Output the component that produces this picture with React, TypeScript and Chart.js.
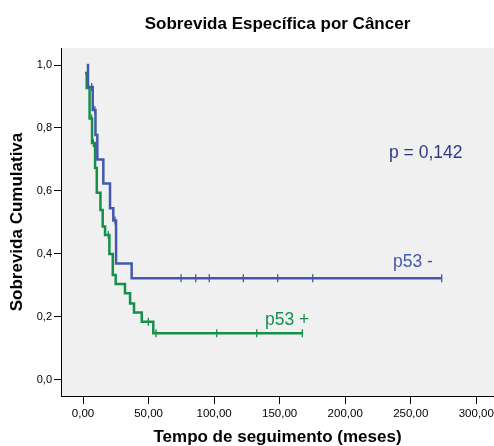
import { useEffect, useRef } from "react";
import { Chart, registerables } from "chart.js";

Chart.register(...registerables);

// Kaplan–Meier estimates: time of each step (months) and survival after it
const negTimes = [2.8, 3.8, 7.4, 9.5, 10.9, 15.5, 20.6, 23.1, 25.2, 37.1, 273.6];
const negSurvival = [1.0, 0.93, 0.857, 0.778, 0.7, 0.624, 0.545, 0.506, 0.37, 0.323, 0.323];
const negCensored = [6.6, 9.0, 24.4, 74.8, 86.0, 96.3, 122.3, 148.5, 175.2, 273.6];

const posTimes = [1.5, 2.8, 5.0, 6.9, 9.2, 10.5, 13.3, 15.0, 16.8, 20.1, 22.7, 24.9, 32.0, 35.9, 38.9, 44.8, 53.6, 167.3];
const posSurvival = [0.975, 0.927, 0.83, 0.752, 0.673, 0.594, 0.54, 0.487, 0.46, 0.4, 0.333, 0.305, 0.275, 0.243, 0.214, 0.185, 0.148, 0.148];
const posCensored = [6.6, 7.9, 19.3, 49.8, 55.7, 102.0, 132.5, 167.3];

const xTicks = [0, 50, 100, 150, 200, 250, 300];
const yTicks = [0, 0.2, 0.4, 0.6, 0.8, 1.0];

const seriesNames = ["p53 -", "p53 +"];
const pValueText = "p = 0,142";

const BLUE = "#4259ad";
const GREEN = "#15904a";
const FONT = 'Arial, "Liberation Sans", sans-serif';

function survivalAt(times: number[], surv: number[], t: number) {
  let s = surv[0];
  for (let i = 0; i < times.length; i++) {
    if (times[i] <= t) s = surv[i];
  }
  return s;
}

const comma = (v: number, d: number) => v.toFixed(d).replace(".", ",");

const plotBackground = {
  id: "plotBackground",
  beforeDraw(chart: any) {
    const { ctx, chartArea } = chart;
    ctx.save();
    ctx.fillStyle = "#f0f0f0";
    ctx.fillRect(chartArea.left, chartArea.top, chartArea.right - chartArea.left, chartArea.bottom - chartArea.top);
    ctx.restore();
  },
};

const textLabels = {
  id: "textLabels",
  afterDatasetsDraw(chart: any) {
    const { ctx, scales } = chart;
    const xs = scales.x;
    const ys = scales.y;
    const items = [
      { text: pValueText, x: 233.4, y: 0.705, color: "#2e3a86" },
      { text: seriesNames[0], x: 236.5, y: 0.359, color: BLUE },
      { text: seriesNames[1], x: 138.8, y: 0.175, color: GREEN },
    ];
    ctx.save();
    ctx.font = `17.5px ${FONT}`;
    ctx.textAlign = "left";
    ctx.textBaseline = "alphabetic";
    for (const it of items) {
      ctx.fillStyle = it.color;
      ctx.fillText(it.text, xs.getPixelForValue(it.x), ys.getPixelForValue(it.y));
    }
    // chart title
    ctx.fillStyle = "#000";
    ctx.font = `bold 17px ${FONT}`;
    ctx.textAlign = "center";
    ctx.textBaseline = "middle";
    ctx.fillText("Sobrevida Específica por Câncer", (chart.chartArea.left + chart.chartArea.right) / 2, 24);
    ctx.restore();
  },
};

export default function App() {
  const ref = useRef<HTMLCanvasElement>(null);

  useEffect(() => {
    if (!ref.current) return;
    const curve = (times: number[], surv: number[]) =>
      times.map((t, i) => ({ x: t, y: surv[i] }));
    const marks = (cens: number[], times: number[], surv: number[]) =>
      cens.map((t) => ({ x: t, y: survivalAt(times, surv, t) }));

    const chart = new Chart(ref.current, {
      type: "line",
      data: {
        datasets: [
          {
            label: seriesNames[0],
            data: curve(negTimes, negSurvival),
            borderColor: BLUE,
            borderWidth: 2.5,
            stepped: "before",
            pointRadius: 0,
            fill: false,
          },
          {
            label: seriesNames[1],
            data: curve(posTimes, posSurvival),
            borderColor: GREEN,
            borderWidth: 2.5,
            stepped: "before",
            pointRadius: 0,
            fill: false,
          },
          {
            label: seriesNames[0] + " censurado",
            data: marks(negCensored, negTimes, negSurvival),
            showLine: false,
            pointStyle: "line",
            rotation: 90,
            pointRadius: 4,
            borderColor: BLUE,
            pointBorderWidth: 1.3,
          },
          {
            label: seriesNames[1] + " censurado",
            data: marks(posCensored, posTimes, posSurvival),
            showLine: false,
            pointStyle: "line",
            rotation: 90,
            pointRadius: 4,
            borderColor: GREEN,
            pointBorderWidth: 1.3,
          },
        ],
      },
      options: {
        animation: false,
        responsive: false,
        devicePixelRatio: 1,
        layout: { autoPadding: false, padding: { top: 48, left: 0, right: 0, bottom: 0 } },
        plugins: {
          legend: { display: false },
          title: { display: false },
          tooltip: { enabled: false },
        },
        scales: {
          x: {
            type: "linear",
            min: -16.8,
            max: 313.5,
            afterBuildTicks: (s: any) => {
              s.ticks = xTicks.map((v) => ({ value: v }));
            },
            afterFit: (s: any) => {
              s.height = 50;
              s.paddingLeft = 0;
              s.paddingRight = 0;
            },
            ticks: {
              callback: (v: any) => comma(Number(v), 2),
              color: "#000",
              font: { family: FONT, size: 11.5 },
              padding: 3,
              maxRotation: 0,
            },
            grid: {
              drawOnChartArea: false,
              drawTicks: true,
              tickLength: 8,
              tickColor: "#000",
              tickWidth: 1,
            },
            border: { display: true, color: "#000", width: 1 },
            title: {
              display: true,
              text: "Tempo de seguimento (meses)",
              color: "#000",
              font: { family: FONT, size: 17, weight: "bold", lineHeight: 1 },
              padding: { top: 0.5, bottom: 0 },
            },
          },
          y: {
            type: "linear",
            min: -0.051,
            max: 1.054,
            afterBuildTicks: (s: any) => {
              s.ticks = yTicks.map((v) => ({ value: v }));
            },
            afterFit: (s: any) => {
              s.width = 61;
              s.paddingTop = 0;
              s.paddingBottom = 0;
            },
            ticks: {
              callback: (v: any) => comma(Number(v), 1),
              color: "#000",
              font: { family: FONT, size: 11 },
              padding: 2,
            },
            grid: {
              drawOnChartArea: false,
              drawTicks: true,
              tickLength: 7,
              tickColor: "#000",
              tickWidth: 1,
            },
            border: { display: true, color: "#000", width: 1 },
            title: {
              display: true,
              text: "Sobrevida Cumulativa",
              color: "#000",
              font: { family: FONT, size: 17, weight: "bold", lineHeight: 1 },
              padding: { top: 8.5, bottom: 0 },
            },
          },
        },
      },
      plugins: [plotBackground, textLabels],
    });
    return () => chart.destroy();
  }, []);

  return (
    <div style={{ position: "absolute", left: 0, top: 0, width: 494, height: 446, background: "#fff" }}>
      <canvas ref={ref} width={494} height={446} />
    </div>
  );
}
